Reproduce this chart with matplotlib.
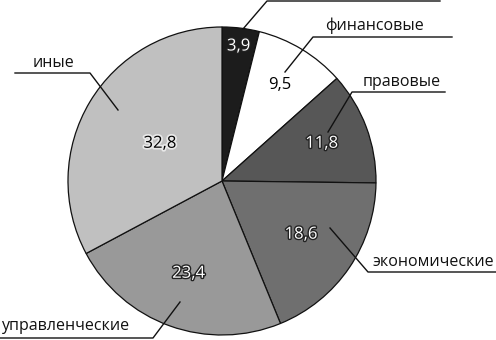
import matplotlib
matplotlib.use("Agg")
import matplotlib.pyplot as plt
import matplotlib.patheffects as pe
import numpy as np

plt.rcParams['font.family'] = ['Open Sans', 'DejaVu Sans']

# data
categories = ['', 'финансовые', 'правовые', 'экономические', 'управленческие', 'иные']
values = [3.9, 9.5, 11.8, 18.6, 23.4, 32.8]
value_labels = ['3,9', '9,5', '11,8', '18,6', '23,4', '32,8']
colors = ['#1c1c1c', '#ffffff', '#575757', '#6f6f6f', '#999999', '#c0c0c0']

# layout (pixel coordinates, y from top)
W, H = 496, 340
cx, cy, rad = 222, 181, 154
label_r = [0.88, 0.73, 0.69, 0.62, 0.64, 0.47]
text_style = ['white', 'black', 'white', 'white', 'white', 'black']
# leader lines: inner point, elbow, end of horizontal
leaders = [
    [(243, 29), (267, 1), (440, 1)],
    [(285, 72), (313, 37), (452, 37)],
    [(328, 132), (352, 92), (445, 92)],
    [(330, 228), (368, 272), (496, 272)],
    [(180, 302), (153, 338), (0, 338)],
    [(118, 110), (90, 73), (15, 73)],
]
# (x, y, horizontal alignment) of the category names
name_pos = [None, (374, 26, 'center'), (402, 82, 'center'), (433, 262, 'center'),
            (1, 326, 'left'), (53, 63, 'center')]

fig = plt.figure(figsize=(W / 100, H / 100), dpi=100)
ax = fig.add_axes([0, 0, 1, 1])

wedges, _ = ax.pie(values, colors=colors, startangle=90, counterclock=False,
                   center=(cx, H - cy), radius=rad,
                   wedgeprops=dict(edgecolor='#111111', linewidth=0.9))
ax.set_xlim(0, W)
ax.set_ylim(0, H)
ax.set_aspect('equal')
ax.axis('off')

for w, lab, fr, st in zip(wedges, value_labels, label_r, text_style):
    ang = np.deg2rad((w.theta1 + w.theta2) / 2)
    x = cx + fr * rad * np.cos(ang)
    y = (H - cy) + fr * rad * np.sin(ang)
    if st == 'white':
        fx = [pe.withStroke(linewidth=2.0, foreground='#222222')]
        c = 'white'
    else:
        fx = [pe.withStroke(linewidth=2.5, foreground='#e8e8e8')] if lab == '32,8' else None
        c = 'black'
    ax.text(x, y, lab, ha='center', va='center', fontsize=12, color=c,
            path_effects=fx)

for pts in leaders:
    xs = [p[0] for p in pts]
    ys = [H - p[1] for p in pts]
    ax.plot(xs, ys, color='#111111', linewidth=1.0, clip_on=False)

for name, pos in zip(categories, name_pos):
    if pos is None:
        continue
    ax.text(pos[0], H - pos[1], name, ha=pos[2], va='center', fontsize=11.5,
            color='#111111')

fig.savefig('out.png', dpi=100)
